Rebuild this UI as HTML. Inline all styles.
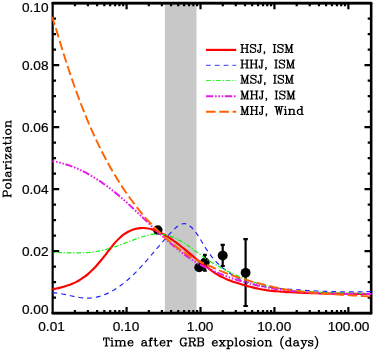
<!DOCTYPE html>
<html><head><meta charset="utf-8"><title>Polarization</title>
<style>
html,body{margin:0;padding:0;background:#fff;}
body{width:374px;height:352px;overflow:hidden;font-family:"Liberation Sans",sans-serif;}
svg{display:block;will-change:transform;}
</style></head><body>
<svg width="374" height="352" viewBox="0 0 374 352">
<rect x="0" y="0" width="374" height="352" fill="#ffffff"/>
<rect x="164.88" y="3.15" width="31.62" height="310.00" fill="#c8c8c8"/>
<path d="M74.91,313.15 v-3.10 M74.91,3.15 v3.10 M87.92,313.15 v-3.10 M87.92,3.15 v3.10 M97.16,313.15 v-3.10 M97.16,3.15 v3.10 M104.32,313.15 v-3.10 M104.32,3.15 v3.10 M110.18,313.15 v-3.10 M110.18,3.15 v3.10 M115.13,313.15 v-3.10 M115.13,3.15 v3.10 M119.42,313.15 v-3.10 M119.42,3.15 v3.10 M123.20,313.15 v-3.10 M123.20,3.15 v3.10 M126.58,313.15 v-6.20 M126.58,3.15 v6.20 M148.84,313.15 v-3.10 M148.84,3.15 v3.10 M161.85,313.15 v-3.10 M161.85,3.15 v3.10 M171.09,313.15 v-3.10 M171.09,3.15 v3.10 M178.25,313.15 v-3.10 M178.25,3.15 v3.10 M184.11,313.15 v-3.10 M184.11,3.15 v3.10 M189.06,313.15 v-3.10 M189.06,3.15 v3.10 M193.35,313.15 v-3.10 M193.35,3.15 v3.10 M197.13,313.15 v-3.10 M197.13,3.15 v3.10 M200.51,313.15 v-6.20 M200.51,3.15 v6.20 M222.77,313.15 v-3.10 M222.77,3.15 v3.10 M235.78,313.15 v-3.10 M235.78,3.15 v3.10 M245.02,313.15 v-3.10 M245.02,3.15 v3.10 M252.18,313.15 v-3.10 M252.18,3.15 v3.10 M258.04,313.15 v-3.10 M258.04,3.15 v3.10 M262.99,313.15 v-3.10 M262.99,3.15 v3.10 M267.28,313.15 v-3.10 M267.28,3.15 v3.10 M271.06,313.15 v-3.10 M271.06,3.15 v3.10 M274.44,313.15 v-6.20 M274.44,3.15 v6.20 M296.70,313.15 v-3.10 M296.70,3.15 v3.10 M309.71,313.15 v-3.10 M309.71,3.15 v3.10 M318.95,313.15 v-3.10 M318.95,3.15 v3.10 M326.11,313.15 v-3.10 M326.11,3.15 v3.10 M331.97,313.15 v-3.10 M331.97,3.15 v3.10 M336.92,313.15 v-3.10 M336.92,3.15 v3.10 M341.21,313.15 v-3.10 M341.21,3.15 v3.10 M344.99,313.15 v-3.10 M344.99,3.15 v3.10 M348.37,313.15 v-6.20 M348.37,3.15 v6.20 M52.65,297.65 h3.40 M371.10,297.65 h-3.40 M52.65,282.15 h3.40 M371.10,282.15 h-3.40 M52.65,266.65 h3.40 M371.10,266.65 h-3.40 M52.65,251.15 h6.60 M371.10,251.15 h-6.60 M52.65,235.65 h3.40 M371.10,235.65 h-3.40 M52.65,220.15 h3.40 M371.10,220.15 h-3.40 M52.65,204.65 h3.40 M371.10,204.65 h-3.40 M52.65,189.15 h6.60 M371.10,189.15 h-6.60 M52.65,173.65 h3.40 M371.10,173.65 h-3.40 M52.65,158.15 h3.40 M371.10,158.15 h-3.40 M52.65,142.65 h3.40 M371.10,142.65 h-3.40 M52.65,127.15 h6.60 M371.10,127.15 h-6.60 M52.65,111.65 h3.40 M371.10,111.65 h-3.40 M52.65,96.15 h3.40 M371.10,96.15 h-3.40 M52.65,80.65 h3.40 M371.10,80.65 h-3.40 M52.65,65.15 h6.60 M371.10,65.15 h-6.60 M52.65,49.65 h3.40 M371.10,49.65 h-3.40 M52.65,34.15 h3.40 M371.10,34.15 h-3.40 M52.65,18.65 h3.40 M371.10,18.65 h-3.40" stroke="#000" stroke-width="2.2" fill="none"/>
<rect x="52.65" y="3.15" width="318.45" height="310.00" fill="none" stroke="#000" stroke-width="2.2" stroke-linejoin="round"/>
<path d="M52.65,3.15 H371.10 M52.65,313.15 H371.10" fill="none" stroke="#000" stroke-width="2.6" stroke-linecap="round"/>
<path d="M371.10,3.15 V313.15" fill="none" stroke="#000" stroke-width="2.45" stroke-linecap="round"/>
<g stroke="#000" stroke-width="2.2" fill="#000">
<circle cx="157.80" cy="230.10" r="4.75" stroke="none"/>
<circle cx="199.20" cy="267.40" r="4.90" stroke="none"/>
<path d="M204.90,254.90 V270.60 M203.05,254.90 H206.75 M203.05,270.60 H206.75" fill="none"/>
<circle cx="204.90" cy="262.30" r="4.80" stroke="none"/>
<path d="M222.70,244.90 V266.00 M220.60,244.90 H224.80 M220.60,266.00 H224.80" fill="none"/>
<circle cx="222.70" cy="255.60" r="4.95" stroke="none"/>
<path d="M245.60,239.20 V306.00 M243.35,239.20 H247.85 M243.35,306.00 H247.85" fill="none"/>
<circle cx="245.60" cy="272.80" r="4.90" stroke="none"/>
</g>
<g fill="none" stroke-linejoin="round">
<path d="M52.40,289.41 C53.06,289.27 55.06,288.86 56.39,288.57 C57.71,288.28 59.04,287.98 60.37,287.65 C61.70,287.31 63.03,286.97 64.36,286.58 C65.69,286.18 67.02,285.77 68.34,285.30 C69.67,284.83 71.00,284.33 72.33,283.76 C73.66,283.20 74.99,282.59 76.32,281.90 C77.65,281.22 78.98,280.49 80.30,279.67 C81.63,278.85 82.96,277.97 84.29,276.99 C85.62,276.02 86.95,274.97 88.28,273.82 C89.61,272.67 90.93,271.43 92.26,270.11 C93.59,268.79 94.92,267.38 96.25,265.91 C97.58,264.45 98.91,262.90 100.24,261.31 C101.56,259.72 102.89,258.06 104.22,256.37 C105.55,254.69 106.88,252.92 108.21,251.20 C109.54,249.48 110.87,247.69 112.19,246.06 C113.52,244.42 114.85,242.81 116.18,241.37 C117.51,239.93 118.84,238.62 120.17,237.43 C121.50,236.25 122.82,235.19 124.15,234.24 C125.48,233.29 126.81,232.47 128.14,231.75 C129.47,231.03 130.80,230.43 132.12,229.92 C133.45,229.42 134.78,229.03 136.11,228.72 C137.44,228.42 138.77,228.22 140.10,228.10 C141.43,227.99 142.75,227.97 144.08,228.03 C145.41,228.09 146.74,228.25 148.07,228.47 C149.40,228.69 150.73,229.00 152.06,229.37 C153.38,229.74 154.71,230.19 156.04,230.70 C157.37,231.21 158.70,231.79 160.03,232.42 C161.36,233.05 162.69,233.75 164.02,234.49 C165.34,235.23 166.67,236.03 168.00,236.87 C169.33,237.71 170.66,238.60 171.99,239.52 C173.32,240.44 174.65,241.41 175.97,242.41 C177.30,243.40 178.63,244.43 179.96,245.48 C181.29,246.53 182.62,247.61 183.95,248.70 C185.28,249.78 186.60,250.89 187.93,251.99 C189.26,253.10 190.59,254.20 191.92,255.32 C193.25,256.44 194.58,257.65 195.91,258.73 C197.23,259.81 198.56,260.76 199.89,261.78 C201.22,262.79 202.55,263.83 203.88,264.82 C205.21,265.82 206.54,266.76 207.86,267.77 C209.19,268.77 210.52,269.88 211.85,270.85 C213.18,271.83 214.51,272.75 215.84,273.60 C217.17,274.45 218.49,275.22 219.82,275.93 C221.15,276.65 222.48,277.27 223.81,277.89 C225.14,278.52 226.47,279.11 227.80,279.67 C229.12,280.22 230.45,280.75 231.78,281.23 C233.11,281.71 234.44,282.15 235.77,282.57 C237.10,283.00 238.43,283.35 239.75,283.75 C241.08,284.16 242.41,284.59 243.74,284.99 C245.07,285.38 246.40,285.76 247.73,286.13 C249.06,286.49 250.38,286.85 251.71,287.17 C253.04,287.50 254.37,287.80 255.70,288.09 C257.03,288.38 258.36,288.66 259.69,288.93 C261.01,289.19 262.34,289.45 263.67,289.69 C265.00,289.93 266.33,290.20 267.66,290.39 C268.99,290.58 270.31,290.69 271.64,290.82 C272.97,290.96 274.30,291.07 275.63,291.19 C276.96,291.30 278.29,291.41 279.62,291.51 C280.95,291.62 282.27,291.71 283.60,291.80 C284.93,291.89 286.26,291.98 287.59,292.06 C288.92,292.15 290.25,292.23 291.58,292.30 C292.90,292.37 294.23,292.44 295.56,292.51 C296.89,292.58 298.22,292.64 299.55,292.70 C300.88,292.76 302.20,292.81 303.53,292.86 C304.86,292.92 306.19,292.97 307.52,293.01 C308.85,293.06 310.18,293.10 311.51,293.14 C312.84,293.18 314.16,293.22 315.49,293.25 C316.82,293.29 318.15,293.32 319.48,293.35 C320.81,293.38 322.14,293.41 323.47,293.43 C324.79,293.46 326.12,293.48 327.45,293.51 C328.78,293.53 330.11,293.55 331.44,293.57 C332.77,293.59 334.10,293.61 335.42,293.62 C336.75,293.64 338.08,293.66 339.41,293.67 C340.74,293.69 342.07,293.70 343.40,293.71 C344.73,293.73 346.05,293.74 347.38,293.75 C348.71,293.77 350.04,293.78 351.37,293.79 C352.70,293.80 354.03,293.81 355.36,293.83 C356.68,293.84 358.01,293.85 359.34,293.87 C360.67,293.88 362.00,293.89 363.33,293.91 C364.66,293.92 365.99,293.94 367.31,293.95 C368.64,293.97 370.64,293.99 371.30,294.00" stroke="#ff0000" stroke-width="2.15"/>
<path d="M52.40,292.68 C52.90,292.71 54.41,292.79 55.41,292.89 C56.41,292.98 57.41,293.12 58.42,293.26 C59.42,293.41 60.42,293.58 61.43,293.77 C62.43,293.95 63.43,294.16 64.43,294.36 C65.44,294.57 66.44,294.80 67.44,295.02 C68.45,295.24 69.45,295.47 70.45,295.69 C71.45,295.91 72.46,296.14 73.46,296.35 C74.46,296.56 75.47,296.77 76.47,296.95 C77.47,297.14 78.47,297.32 79.48,297.47 C80.48,297.62 81.48,297.76 82.48,297.86 C83.49,297.97 84.49,298.05 85.49,298.10 C86.50,298.14 87.50,298.16 88.50,298.13 C89.50,298.11 90.51,298.05 91.51,297.95 C92.51,297.85 93.52,297.72 94.52,297.55 C95.52,297.38 96.52,297.17 97.53,296.93 C98.53,296.69 99.53,296.42 100.54,296.11 C101.54,295.80 102.54,295.46 103.54,295.08 C104.55,294.70 105.55,294.29 106.55,293.85 C107.56,293.40 108.56,292.93 109.56,292.42 C110.56,291.91 111.57,291.37 112.57,290.80 C113.57,290.23 114.58,289.62 115.58,288.99 C116.58,288.35 117.58,287.69 118.59,286.99 C119.59,286.30 120.59,285.57 121.60,284.82 C122.60,284.06 123.60,283.28 124.60,282.47 C125.61,281.65 126.61,280.81 127.61,279.94 C128.62,279.07 129.62,278.18 130.62,277.25 C131.62,276.33 132.63,275.37 133.63,274.39 C134.63,273.42 135.63,272.41 136.64,271.38 C137.64,270.35 138.64,269.29 139.65,268.22 C140.65,267.14 141.65,266.04 142.65,264.93 C143.66,263.82 144.66,262.69 145.66,261.55 C146.67,260.41 147.67,259.25 148.67,258.09 C149.67,256.93 150.68,255.75 151.68,254.58 C152.68,253.41 153.69,252.22 154.69,251.05 C155.69,249.87 156.69,248.69 157.70,247.51 C158.70,246.34 159.70,245.16 160.71,244.00 C161.71,242.84 162.71,241.68 163.71,240.54 C164.72,239.40 165.72,238.26 166.72,237.15 C167.73,236.03 168.73,234.93 169.73,233.85 C170.73,232.78 171.74,231.70 172.74,230.69 C173.74,229.68 174.75,228.66 175.75,227.79 C176.75,226.92 177.75,226.09 178.76,225.45 C179.76,224.81 180.76,224.27 181.77,223.96 C182.77,223.66 183.77,223.51 184.77,223.62 C185.78,223.73 186.78,224.07 187.78,224.60 C188.78,225.12 189.79,225.87 190.79,226.76 C191.79,227.65 192.80,228.74 193.80,229.93 C194.80,231.12 195.80,232.47 196.81,233.90 C197.81,235.33 198.81,236.91 199.82,238.50 C200.82,240.09 201.82,241.81 202.82,243.45 C203.83,245.10 204.83,246.80 205.83,248.37 C206.84,249.94 207.84,251.46 208.84,252.88 C209.84,254.31 210.85,255.67 211.85,256.92 C212.85,258.18 213.86,259.30 214.86,260.40 C215.86,261.49 216.86,262.51 217.87,263.49 C218.87,264.47 219.87,265.38 220.88,266.26 C221.88,267.13 222.88,267.94 223.88,268.75 C224.89,269.57 225.89,270.39 226.89,271.15 C227.90,271.91 228.90,272.63 229.90,273.32 C230.90,274.01 231.91,274.67 232.91,275.29 C233.91,275.91 234.92,276.49 235.92,277.04 C236.92,277.60 237.92,278.12 238.93,278.61 C239.93,279.11 240.93,279.57 241.93,280.01 C242.94,280.44 243.94,280.83 244.94,281.24 C245.95,281.64 246.95,282.05 247.95,282.42 C248.95,282.79 249.96,283.14 250.96,283.47 C251.96,283.80 252.97,284.10 253.97,284.39 C254.97,284.68 255.97,284.95 256.98,285.20 C257.98,285.45 258.98,285.69 259.99,285.91 C260.99,286.13 261.99,286.33 262.99,286.50 C264.00,286.67 265.00,286.80 266.00,286.94 C267.01,287.08 268.01,287.20 269.01,287.32 C270.01,287.44 271.02,287.55 272.02,287.66 C273.02,287.76 274.03,287.86 275.03,287.96 C276.03,288.05 277.03,288.14 278.04,288.23 C279.04,288.32 280.04,288.41 281.05,288.50 C282.05,288.58 283.05,288.67 284.05,288.75 C285.06,288.84 286.06,288.92 287.06,289.00 C288.07,289.09 289.07,289.17 290.07,289.25 C291.07,289.33 292.08,289.40 293.08,289.48 C294.08,289.56 295.08,289.63 296.09,289.71 C297.09,289.78 298.09,289.85 299.10,289.92 C300.10,289.99 301.10,290.06 302.10,290.13 C303.11,290.20 304.11,290.26 305.11,290.33 C306.12,290.39 307.12,290.45 308.12,290.51 C309.12,290.57 310.13,290.63 311.13,290.69 C312.13,290.75 313.14,290.80 314.14,290.86 C315.14,290.91 316.14,290.96 317.15,291.01 C318.15,291.06 319.15,291.11 320.16,291.15 C321.16,291.20 322.16,291.24 323.16,291.29 C324.17,291.33 325.17,291.37 326.17,291.41 C327.18,291.44 328.18,291.48 329.18,291.51 C330.18,291.55 331.19,291.58 332.19,291.61 C333.19,291.64 334.20,291.66 335.20,291.69 C336.20,291.71 337.20,291.74 338.21,291.76 C339.21,291.78 340.21,291.80 341.22,291.81 C342.22,291.83 343.22,291.84 344.22,291.85 C345.23,291.86 346.23,291.87 347.23,291.88 C348.23,291.88 349.24,291.89 350.24,291.89 C351.24,291.89 352.25,291.89 353.25,291.88 C354.25,291.88 355.25,291.87 356.26,291.86 C357.26,291.85 358.26,291.84 359.27,291.82 C360.27,291.81 361.27,291.79 362.27,291.77 C363.28,291.75 364.28,291.73 365.28,291.70 C366.29,291.68 367.29,291.65 368.29,291.62 C369.29,291.59 370.80,291.53 371.30,291.51" stroke="#2020ff" stroke-width="1.15" stroke-dasharray="4.8 4"/>
<path d="M52.40,252.46 C53.06,252.47 55.06,252.50 56.39,252.53 C57.71,252.56 59.04,252.60 60.37,252.64 C61.70,252.68 63.03,252.72 64.36,252.75 C65.69,252.79 67.02,252.83 68.34,252.85 C69.67,252.88 71.00,252.91 72.33,252.92 C73.66,252.94 74.99,252.95 76.32,252.94 C77.65,252.93 78.98,252.92 80.30,252.88 C81.63,252.85 82.96,252.80 84.29,252.74 C85.62,252.67 86.95,252.59 88.28,252.48 C89.61,252.37 90.93,252.24 92.26,252.09 C93.59,251.93 94.92,251.75 96.25,251.54 C97.58,251.33 98.91,251.10 100.24,250.83 C101.56,250.56 102.89,250.26 104.22,249.93 C105.55,249.61 106.88,249.25 108.21,248.87 C109.54,248.49 110.87,248.09 112.19,247.67 C113.52,247.25 114.85,246.80 116.18,246.35 C117.51,245.90 118.84,245.42 120.17,244.94 C121.50,244.46 122.82,243.96 124.15,243.46 C125.48,242.96 126.81,242.45 128.14,241.94 C129.47,241.43 130.80,240.91 132.12,240.40 C133.45,239.89 134.78,239.37 136.11,238.89 C137.44,238.40 138.77,237.91 140.10,237.46 C141.43,237.02 142.75,236.59 144.08,236.20 C145.41,235.82 146.74,235.46 148.07,235.17 C149.40,234.87 150.73,234.61 152.06,234.43 C153.38,234.24 154.71,234.10 156.04,234.04 C157.37,233.99 158.70,234.00 160.03,234.09 C161.36,234.18 162.69,234.35 164.02,234.59 C165.34,234.83 166.67,235.15 168.00,235.53 C169.33,235.91 170.66,236.36 171.99,236.87 C173.32,237.37 174.65,237.95 175.97,238.57 C177.30,239.20 178.63,239.89 179.96,240.62 C181.29,241.36 182.62,242.15 183.95,242.98 C185.28,243.81 186.60,244.69 187.93,245.59 C189.26,246.50 190.59,247.45 191.92,248.40 C193.25,249.36 194.58,250.35 195.91,251.33 C197.23,252.31 198.56,253.32 199.89,254.30 C201.22,255.29 202.55,256.31 203.88,257.25 C205.21,258.19 206.54,259.08 207.86,259.94 C209.19,260.81 210.52,261.62 211.85,262.42 C213.18,263.22 214.51,263.98 215.84,264.74 C217.17,265.50 218.49,266.25 219.82,267.00 C221.15,267.75 222.48,268.51 223.81,269.23 C225.14,269.95 226.47,270.64 227.80,271.31 C229.12,271.99 230.45,272.64 231.78,273.26 C233.11,273.89 234.44,274.50 235.77,275.08 C237.10,275.67 238.43,276.23 239.75,276.78 C241.08,277.32 242.41,277.83 243.74,278.35 C245.07,278.87 246.40,279.41 247.73,279.92 C249.06,280.43 250.38,280.95 251.71,281.43 C253.04,281.92 254.37,282.39 255.70,282.84 C257.03,283.29 258.36,283.73 259.69,284.14 C261.01,284.55 262.34,284.93 263.67,285.28 C265.00,285.63 266.33,285.93 267.66,286.23 C268.99,286.53 270.31,286.82 271.64,287.09 C272.97,287.37 274.30,287.63 275.63,287.87 C276.96,288.12 278.29,288.35 279.62,288.57 C280.95,288.80 282.27,289.01 283.60,289.20 C284.93,289.40 286.26,289.59 287.59,289.76 C288.92,289.94 290.25,290.10 291.58,290.26 C292.90,290.42 294.23,290.56 295.56,290.70 C296.89,290.83 298.22,290.96 299.55,291.08 C300.88,291.20 302.20,291.31 303.53,291.41 C304.86,291.51 306.19,291.61 307.52,291.70 C308.85,291.79 310.18,291.87 311.51,291.94 C312.84,292.02 314.16,292.09 315.49,292.15 C316.82,292.22 318.15,292.28 319.48,292.33 C320.81,292.39 322.14,292.43 323.47,292.48 C324.79,292.53 326.12,292.57 327.45,292.61 C328.78,292.65 330.11,292.69 331.44,292.72 C332.77,292.76 334.10,292.79 335.42,292.82 C336.75,292.86 338.08,292.89 339.41,292.92 C340.74,292.95 342.07,292.97 343.40,293.00 C344.73,293.03 346.05,293.06 347.38,293.09 C348.71,293.12 350.04,293.16 351.37,293.19 C352.70,293.22 354.03,293.26 355.36,293.30 C356.68,293.33 358.01,293.37 359.34,293.42 C360.67,293.46 362.00,293.51 363.33,293.56 C364.66,293.61 365.99,293.67 367.31,293.73 C368.64,293.79 370.64,293.89 371.30,293.92" stroke="#10f210" stroke-width="1.15" stroke-dasharray="4.7 1.8 1.3 1.8" stroke-dashoffset="4.8"/>
<path d="M52.40,161.22 C53.06,161.34 55.06,161.65 56.39,161.91 C57.71,162.18 59.04,162.47 60.37,162.80 C61.70,163.13 63.03,163.48 64.36,163.87 C65.69,164.26 67.02,164.68 68.34,165.13 C69.67,165.58 71.00,166.06 72.33,166.57 C73.66,167.08 74.99,167.62 76.32,168.19 C77.65,168.75 78.98,169.35 80.30,169.98 C81.63,170.60 82.96,171.26 84.29,171.94 C85.62,172.62 86.95,173.33 88.28,174.07 C89.61,174.81 90.93,175.57 92.26,176.36 C93.59,177.16 94.92,177.97 96.25,178.82 C97.58,179.66 98.91,180.53 100.24,181.43 C101.56,182.33 102.89,183.25 104.22,184.20 C105.55,185.14 106.88,186.12 108.21,187.11 C109.54,188.11 110.87,189.13 112.19,190.17 C113.52,191.22 114.85,192.29 116.18,193.38 C117.51,194.47 118.84,195.59 120.17,196.73 C121.50,197.86 122.82,199.03 124.15,200.21 C125.48,201.39 126.81,202.59 128.14,203.81 C129.47,205.02 130.80,206.26 132.12,207.50 C133.45,208.74 134.78,210.00 136.11,211.26 C137.44,212.52 138.77,213.80 140.10,215.07 C141.43,216.35 142.75,217.63 144.08,218.91 C145.41,220.18 146.74,221.46 148.07,222.74 C149.40,224.01 150.73,225.28 152.06,226.54 C153.38,227.80 154.71,229.05 156.04,230.29 C157.37,231.53 158.70,232.76 160.03,233.97 C161.36,235.19 162.69,236.39 164.02,237.58 C165.34,238.76 166.67,239.94 168.00,241.09 C169.33,242.25 170.66,243.39 171.99,244.51 C173.32,245.63 174.65,246.73 175.97,247.81 C177.30,248.89 178.63,249.96 179.96,251.00 C181.29,252.03 182.62,253.05 183.95,254.05 C185.28,255.04 186.60,256.01 187.93,256.96 C189.26,257.91 190.59,258.83 191.92,259.73 C193.25,260.63 194.58,261.53 195.91,262.35 C197.23,263.17 198.56,263.93 199.89,264.63 C201.22,265.33 202.55,265.94 203.88,266.55 C205.21,267.17 206.54,267.72 207.86,268.32 C209.19,268.91 210.52,269.51 211.85,270.12 C213.18,270.74 214.51,271.40 215.84,272.00 C217.17,272.60 218.49,273.16 219.82,273.71 C221.15,274.27 222.48,274.80 223.81,275.32 C225.14,275.83 226.47,276.34 227.80,276.82 C229.12,277.31 230.45,277.77 231.78,278.22 C233.11,278.67 234.44,279.10 235.77,279.52 C237.10,279.94 238.43,280.35 239.75,280.74 C241.08,281.14 242.41,281.52 243.74,281.89 C245.07,282.26 246.40,282.62 247.73,282.97 C249.06,283.32 250.38,283.66 251.71,284.00 C253.04,284.33 254.37,284.66 255.70,284.97 C257.03,285.29 258.36,285.59 259.69,285.89 C261.01,286.19 262.34,286.47 263.67,286.75 C265.00,287.03 266.33,287.31 267.66,287.57 C268.99,287.82 270.31,288.07 271.64,288.29 C272.97,288.52 274.30,288.72 275.63,288.92 C276.96,289.12 278.29,289.31 279.62,289.50 C280.95,289.69 282.27,289.87 283.60,290.04 C284.93,290.21 286.26,290.37 287.59,290.53 C288.92,290.69 290.25,290.84 291.58,290.98 C292.90,291.13 294.23,291.26 295.56,291.39 C296.89,291.53 298.22,291.65 299.55,291.77 C300.88,291.89 302.20,292.00 303.53,292.11 C304.86,292.21 306.19,292.31 307.52,292.41 C308.85,292.51 310.18,292.60 311.51,292.68 C312.84,292.77 314.16,292.85 315.49,292.92 C316.82,293.00 318.15,293.07 319.48,293.13 C320.81,293.20 322.14,293.26 323.47,293.32 C324.79,293.37 326.12,293.43 327.45,293.47 C328.78,293.52 330.11,293.57 331.44,293.61 C332.77,293.65 334.10,293.69 335.42,293.72 C336.75,293.75 338.08,293.78 339.41,293.81 C340.74,293.84 342.07,293.86 343.40,293.88 C344.73,293.90 346.05,293.92 347.38,293.93 C348.71,293.95 350.04,293.96 351.37,293.97 C352.70,293.98 354.03,293.99 355.36,294.00 C356.68,294.00 358.01,294.01 359.34,294.01 C360.67,294.01 362.00,294.01 363.33,294.01 C364.66,294.01 365.99,294.01 367.31,294.00 C368.64,294.00 370.64,293.99 371.30,293.99" stroke="#e61ae6" stroke-width="1.95" stroke-dasharray="7.3 1.8 1.6 1.7 1.6 1.7 1.6 1.5" stroke-dashoffset="5.4"/>
<path d="M52.20,16.97 C52.70,18.54 54.21,23.19 55.21,26.40 C56.21,29.60 57.22,32.92 58.22,36.20 C59.22,39.48 60.23,42.82 61.23,46.08 C62.23,49.34 63.24,52.58 64.24,55.75 C65.24,58.93 66.25,62.06 67.25,65.13 C68.26,68.21 69.26,71.24 70.26,74.22 C71.27,77.19 72.27,80.12 73.27,83.00 C74.28,85.87 75.28,88.70 76.28,91.47 C77.29,94.25 78.29,96.97 79.29,99.64 C80.30,102.31 81.30,104.93 82.30,107.50 C83.31,110.07 84.31,112.58 85.31,115.05 C86.32,117.52 87.32,119.93 88.32,122.31 C89.33,124.68 90.33,127.00 91.33,129.27 C92.34,131.55 93.34,133.78 94.35,135.97 C95.35,138.16 96.35,140.30 97.36,142.40 C98.36,144.50 99.36,146.56 100.37,148.58 C101.37,150.59 102.37,152.57 103.38,154.51 C104.38,156.45 105.38,158.35 106.39,160.21 C107.39,162.08 108.39,163.90 109.40,165.70 C110.40,167.49 111.40,169.24 112.41,170.97 C113.41,172.69 114.41,174.38 115.42,176.04 C116.42,177.70 117.42,179.33 118.43,180.93 C119.43,182.53 120.44,184.09 121.44,185.63 C122.44,187.18 123.45,188.69 124.45,190.18 C125.45,191.66 126.46,193.12 127.46,194.56 C128.46,195.99 129.47,197.40 130.47,198.79 C131.47,200.17 132.48,201.53 133.48,202.87 C134.48,204.20 135.49,205.51 136.49,206.80 C137.49,208.08 138.50,209.35 139.50,210.59 C140.50,211.83 141.51,213.04 142.51,214.24 C143.51,215.43 144.52,216.60 145.52,217.75 C146.53,218.90 147.53,220.02 148.53,221.13 C149.54,222.24 150.54,223.32 151.54,224.38 C152.55,225.45 153.55,226.49 154.55,227.51 C155.56,228.53 156.56,229.54 157.56,230.52 C158.57,231.50 159.57,232.46 160.57,233.41 C161.58,234.35 162.58,235.28 163.58,236.18 C164.59,237.09 165.59,237.98 166.59,238.85 C167.60,239.72 168.60,240.57 169.60,241.41 C170.61,242.24 171.61,243.06 172.62,243.86 C173.62,244.66 174.62,245.45 175.63,246.22 C176.63,246.99 177.63,247.74 178.64,248.48 C179.64,249.22 180.64,249.94 181.65,250.65 C182.65,251.35 183.65,252.05 184.66,252.73 C185.66,253.41 186.66,254.07 187.67,254.72 C188.67,255.37 189.67,256.01 190.68,256.64 C191.68,257.26 192.68,257.88 193.69,258.47 C194.69,259.06 195.69,259.65 196.70,260.17 C197.70,260.69 198.71,261.13 199.71,261.59 C200.71,262.05 201.72,262.50 202.72,262.94 C203.72,263.38 204.73,263.80 205.73,264.23 C206.73,264.66 207.74,265.07 208.74,265.53 C209.74,265.98 210.75,266.50 211.75,266.98 C212.75,267.45 213.76,267.92 214.76,268.37 C215.76,268.83 216.77,269.27 217.77,269.71 C218.77,270.15 219.78,270.58 220.78,271.00 C221.78,271.42 222.79,271.84 223.79,272.24 C224.79,272.65 225.80,273.04 226.80,273.43 C227.81,273.82 228.81,274.20 229.81,274.57 C230.82,274.95 231.82,275.31 232.82,275.67 C233.83,276.02 234.83,276.37 235.83,276.71 C236.84,277.06 237.84,277.39 238.84,277.72 C239.85,278.04 240.85,278.36 241.85,278.68 C242.86,278.99 243.86,279.29 244.86,279.59 C245.87,279.89 246.87,280.18 247.87,280.47 C248.88,280.75 249.88,281.03 250.88,281.30 C251.89,281.58 252.89,281.84 253.90,282.10 C254.90,282.36 255.90,282.61 256.91,282.86 C257.91,283.11 258.91,283.34 259.92,283.58 C260.92,283.82 261.92,284.06 262.93,284.31 C263.93,284.57 264.93,284.85 265.94,285.11 C266.94,285.37 267.94,285.62 268.95,285.87 C269.95,286.12 270.95,286.37 271.96,286.61 C272.96,286.84 273.96,287.08 274.97,287.31 C275.97,287.54 276.97,287.76 277.98,287.98 C278.98,288.20 279.99,288.41 280.99,288.62 C281.99,288.83 283.00,289.05 284.00,289.24 C285.00,289.42 286.01,289.58 287.01,289.73 C288.01,289.89 289.02,290.02 290.02,290.16 C291.02,290.29 292.03,290.43 293.03,290.55 C294.03,290.68 295.04,290.81 296.04,290.93 C297.04,291.05 298.05,291.17 299.05,291.29 C300.05,291.40 301.06,291.51 302.06,291.62 C303.06,291.73 304.07,291.84 305.07,291.94 C306.08,292.04 307.08,292.14 308.08,292.24 C309.09,292.33 310.09,292.43 311.09,292.52 C312.10,292.61 313.10,292.70 314.10,292.79 C315.11,292.88 316.11,292.96 317.11,293.04 C318.12,293.12 319.12,293.20 320.12,293.28 C321.13,293.36 322.13,293.44 323.13,293.51 C324.14,293.59 325.14,293.66 326.14,293.73 C327.15,293.80 328.15,293.87 329.15,293.94 C330.16,294.01 331.16,294.08 332.17,294.14 C333.17,294.21 334.17,294.27 335.18,294.34 C336.18,294.40 337.18,294.46 338.19,294.53 C339.19,294.59 340.19,294.65 341.20,294.71 C342.20,294.77 343.20,294.83 344.21,294.89 C345.21,294.95 346.21,295.01 347.22,295.07 C348.22,295.13 349.22,295.19 350.23,295.25 C351.23,295.31 352.23,295.37 353.24,295.43 C354.24,295.49 355.24,295.55 356.25,295.61 C357.25,295.67 358.26,295.73 359.26,295.79 C360.26,295.85 361.27,295.92 362.27,295.98 C363.27,296.04 364.28,296.11 365.28,296.17 C366.28,296.23 367.29,296.30 368.29,296.37 C369.29,296.44 370.80,296.54 371.30,296.57" stroke="#ff6000" stroke-width="1.9" stroke-dasharray="9.52 3.64" stroke-dashoffset="1.3"/>
</g>
<g font-family="'Liberation Sans', sans-serif" font-size="13" fill="#000" stroke="#000" stroke-width="0.22">
<text x="38.27" y="331.30" textLength="26.56" lengthAdjust="spacingAndGlyphs">0.01</text>
<text x="112.70" y="331.30" textLength="26.56" lengthAdjust="spacingAndGlyphs">0.10</text>
<text x="186.83" y="331.30" textLength="26.56" lengthAdjust="spacingAndGlyphs">1.00</text>
<text x="257.16" y="331.30" textLength="34.15" lengthAdjust="spacingAndGlyphs">10.00</text>
<text x="327.70" y="331.30" textLength="41.74" lengthAdjust="spacingAndGlyphs">100.00</text>
<text x="21.94" y="313.50" textLength="26.56" lengthAdjust="spacingAndGlyphs">0.00</text>
<text x="21.94" y="256.45" textLength="26.56" lengthAdjust="spacingAndGlyphs">0.02</text>
<text x="21.94" y="194.45" textLength="26.56" lengthAdjust="spacingAndGlyphs">0.04</text>
<text x="21.94" y="132.45" textLength="26.56" lengthAdjust="spacingAndGlyphs">0.06</text>
<text x="21.94" y="70.45" textLength="26.56" lengthAdjust="spacingAndGlyphs">0.08</text>
<text x="21.94" y="11.75" textLength="26.56" lengthAdjust="spacingAndGlyphs">0.10</text>
</g>
<path d="M106.18,337.92 106.18,345.95 M106.56,337.92 106.56,345.95 M103.88,337.92 103.50,340.22 103.50,337.92 109.23,337.92 109.23,340.22 108.85,337.92 M105.03,345.95 107.70,345.95 M111.91,337.92 111.53,338.31 111.91,338.69 112.29,338.31 111.91,337.92 M111.91,340.60 111.91,345.95 M112.29,340.60 112.29,345.95 M110.76,340.60 112.29,340.60 M110.76,345.95 113.44,345.95 M116.11,340.60 116.11,345.95 M116.49,340.60 116.49,345.95 M116.49,341.75 117.26,340.98 118.40,340.60 119.17,340.60 120.31,340.98 120.70,341.75 120.70,345.95 M119.17,340.60 119.93,340.98 120.31,341.75 120.31,345.95 M120.70,341.75 121.46,340.98 122.61,340.60 123.37,340.60 124.52,340.98 124.90,341.75 124.90,345.95 M123.37,340.60 124.14,340.98 124.52,341.75 124.52,345.95 M114.96,340.60 116.49,340.60 M114.96,345.95 117.64,345.95 M119.17,345.95 121.84,345.95 M123.37,345.95 126.05,345.95 M128.34,342.89 132.93,342.89 132.93,342.13 132.54,341.36 132.16,340.98 131.40,340.60 130.25,340.60 129.10,340.98 128.34,341.75 127.96,342.89 127.96,343.66 128.34,344.80 129.10,345.57 130.25,345.95 131.01,345.95 132.16,345.57 132.93,344.80 M132.54,342.89 132.54,341.75 132.16,340.98 M130.25,340.60 129.49,340.98 128.72,341.75 128.34,342.89 128.34,343.66 128.72,344.80 129.49,345.57 130.25,345.95 M142.45,341.36 142.45,341.75 142.06,341.75 142.06,341.36 142.45,340.98 143.21,340.60 144.74,340.60 145.50,340.98 145.89,341.36 146.27,342.13 146.27,344.80 146.65,345.57 147.03,345.95 M145.89,341.36 145.89,344.80 146.27,345.57 147.03,345.95 147.41,345.95 M145.89,342.13 145.50,342.51 143.21,342.89 142.06,343.27 141.68,344.04 141.68,344.80 142.06,345.57 143.21,345.95 144.36,345.95 145.12,345.57 145.89,344.80 M143.21,342.89 142.45,343.27 142.06,344.04 142.06,344.80 142.45,345.57 143.21,345.95 M152.00,338.31 151.62,338.69 152.00,339.07 152.38,338.69 152.38,338.31 152.00,337.92 151.24,337.92 150.47,338.31 150.09,339.07 150.09,345.95 M151.24,337.92 150.85,338.31 150.47,339.07 150.47,345.95 M148.94,340.60 152.00,340.60 M148.94,345.95 151.62,345.95 M155.06,337.92 155.06,344.42 155.44,345.57 156.20,345.95 156.97,345.95 157.73,345.57 158.11,344.80 M155.44,337.92 155.44,344.42 155.82,345.57 156.20,345.95 M153.91,340.60 156.97,340.60 M160.41,342.89 164.99,342.89 164.99,342.13 164.61,341.36 164.23,340.98 163.46,340.60 162.32,340.60 161.17,340.98 160.41,341.75 160.03,342.89 160.03,343.66 160.41,344.80 161.17,345.57 162.32,345.95 163.08,345.95 164.23,345.57 164.99,344.80 M164.61,342.89 164.61,341.75 164.23,340.98 M162.32,340.60 161.55,340.98 160.79,341.75 160.41,342.89 160.41,343.66 160.79,344.80 161.55,345.57 162.32,345.95 M168.05,340.60 168.05,345.95 M168.43,340.60 168.43,345.95 M168.43,342.89 168.81,341.75 169.58,340.98 170.34,340.60 171.49,340.60 171.87,340.98 171.87,341.36 171.49,341.75 171.11,341.36 171.49,340.98 M166.90,340.60 168.43,340.60 M166.90,345.95 169.58,345.95 M185.60,339.07 185.98,340.22 185.98,337.92 185.60,339.07 184.83,338.31 183.69,337.92 182.92,337.92 181.78,338.31 181.01,339.07 180.63,339.84 180.25,340.98 180.25,342.89 180.63,344.04 181.01,344.80 181.78,345.57 182.92,345.95 183.69,345.95 184.83,345.57 185.60,344.80 M182.92,337.92 182.16,338.31 181.39,339.07 181.01,339.84 180.63,340.98 180.63,342.89 181.01,344.04 181.39,344.80 182.16,345.57 182.92,345.95 M185.60,342.89 185.60,345.95 M185.98,342.89 185.98,345.95 M184.45,342.89 187.13,342.89 M189.80,337.92 189.80,345.95 M190.18,337.92 190.18,345.95 M188.65,337.92 193.24,337.92 194.39,338.31 194.77,338.69 195.15,339.45 195.15,340.22 194.77,340.98 194.39,341.36 193.24,341.75 190.18,341.75 M193.24,337.92 194.00,338.31 194.39,338.69 194.77,339.45 194.77,340.22 194.39,340.98 194.00,341.36 193.24,341.75 M188.65,345.95 191.33,345.95 M192.09,341.75 192.86,342.13 193.24,342.51 194.39,345.19 194.77,345.57 195.15,345.57 195.53,345.19 M192.86,342.13 193.24,342.89 194.00,345.57 194.39,345.95 195.15,345.95 195.53,345.19 195.53,344.80 M198.21,337.92 198.21,345.95 M198.59,337.92 198.59,345.95 M197.06,337.92 201.65,337.92 202.79,338.31 203.18,338.69 203.56,339.45 203.56,340.22 203.18,340.98 202.79,341.36 201.65,341.75 M201.65,337.92 202.41,338.31 202.79,338.69 203.18,339.45 203.18,340.22 202.79,340.98 202.41,341.36 201.65,341.75 M198.59,341.75 201.65,341.75 202.79,342.13 203.18,342.51 203.56,343.27 203.56,344.42 203.18,345.19 202.79,345.57 201.65,345.95 197.06,345.95 M201.65,341.75 202.41,342.13 202.79,342.51 203.18,343.27 203.18,344.42 202.79,345.19 202.41,345.57 201.65,345.95 M212.70,342.89 217.28,342.89 217.28,342.13 216.90,341.36 216.52,340.98 215.75,340.60 214.61,340.60 213.46,340.98 212.70,341.75 212.31,342.89 212.31,343.66 212.70,344.80 213.46,345.57 214.61,345.95 215.37,345.95 216.52,345.57 217.28,344.80 M216.90,342.89 216.90,341.75 216.52,340.98 M214.61,340.60 213.84,340.98 213.08,341.75 212.70,342.89 212.70,343.66 213.08,344.80 213.84,345.57 214.61,345.95 M219.96,340.60 224.16,345.95 M220.34,340.60 224.54,345.95 M224.54,340.60 219.96,345.95 M219.19,340.60 221.49,340.60 M223.01,340.60 225.31,340.60 M219.19,345.95 221.49,345.95 M223.01,345.95 225.31,345.95 M227.98,340.60 227.98,348.63 M228.36,340.60 228.36,348.63 M228.36,341.75 229.13,340.98 229.89,340.60 230.66,340.60 231.80,340.98 232.57,341.75 232.95,342.89 232.95,343.66 232.57,344.80 231.80,345.57 230.66,345.95 229.89,345.95 229.13,345.57 228.36,344.80 M230.66,340.60 231.42,340.98 232.19,341.75 232.57,342.89 232.57,343.66 232.19,344.80 231.42,345.57 230.66,345.95 M226.84,340.60 228.36,340.60 M226.84,348.63 229.51,348.63 M236.01,337.92 236.01,345.95 M236.39,337.92 236.39,345.95 M234.86,337.92 236.39,337.92 M234.86,345.95 237.54,345.95 M241.74,340.60 240.59,340.98 239.83,341.75 239.45,342.89 239.45,343.66 239.83,344.80 240.59,345.57 241.74,345.95 242.50,345.95 243.65,345.57 244.41,344.80 244.80,343.66 244.80,342.89 244.41,341.75 243.65,340.98 242.50,340.60 241.74,340.60 M241.74,340.60 240.98,340.98 240.21,341.75 239.83,342.89 239.83,343.66 240.21,344.80 240.98,345.57 241.74,345.95 M242.50,345.95 243.27,345.57 244.03,344.80 244.41,343.66 244.41,342.89 244.03,341.75 243.27,340.98 242.50,340.60 M250.91,341.36 251.29,340.60 251.29,342.13 250.91,341.36 250.53,340.98 249.76,340.60 248.24,340.60 247.47,340.98 247.09,341.36 247.09,342.13 247.47,342.51 248.24,342.89 250.15,343.66 250.91,344.04 251.29,344.42 M247.09,341.75 247.47,342.13 248.24,342.51 250.15,343.27 250.91,343.66 251.29,344.04 251.29,345.19 250.91,345.57 250.15,345.95 248.62,345.95 247.85,345.57 247.47,345.19 247.09,344.42 247.09,345.95 247.47,345.19 M254.35,337.92 253.97,338.31 254.35,338.69 254.73,338.31 254.35,337.92 M254.35,340.60 254.35,345.95 M254.73,340.60 254.73,345.95 M253.20,340.60 254.73,340.60 M253.20,345.95 255.88,345.95 M260.08,340.60 258.94,340.98 258.17,341.75 257.79,342.89 257.79,343.66 258.17,344.80 258.94,345.57 260.08,345.95 260.85,345.95 261.99,345.57 262.76,344.80 263.14,343.66 263.14,342.89 262.76,341.75 261.99,340.98 260.85,340.60 260.08,340.60 M260.08,340.60 259.32,340.98 258.55,341.75 258.17,342.89 258.17,343.66 258.55,344.80 259.32,345.57 260.08,345.95 M260.85,345.95 261.61,345.57 262.38,344.80 262.76,343.66 262.76,342.89 262.38,341.75 261.61,340.98 260.85,340.60 M266.20,340.60 266.20,345.95 M266.58,340.60 266.58,345.95 M266.58,341.75 267.34,340.98 268.49,340.60 269.25,340.60 270.40,340.98 270.78,341.75 270.78,345.95 M269.25,340.60 270.02,340.98 270.40,341.75 270.40,345.95 M265.05,340.60 266.58,340.60 M265.05,345.95 267.73,345.95 M269.25,345.95 271.93,345.95 M283.36,336.40 282.60,337.16 281.83,338.31 281.07,339.84 280.69,341.75 280.69,343.27 281.07,345.19 281.83,346.71 282.60,347.86 283.36,348.63 M282.60,337.16 281.83,338.69 281.45,339.84 281.07,341.75 281.07,343.27 281.45,345.19 281.83,346.33 282.60,347.86 M290.24,337.92 290.24,345.95 M290.62,337.92 290.62,345.95 M290.24,341.75 289.48,340.98 288.71,340.60 287.95,340.60 286.80,340.98 286.04,341.75 285.65,342.89 285.65,343.66 286.04,344.80 286.80,345.57 287.95,345.95 288.71,345.95 289.48,345.57 290.24,344.80 M287.95,340.60 287.18,340.98 286.42,341.75 286.04,342.89 286.04,343.66 286.42,344.80 287.18,345.57 287.95,345.95 M289.09,337.92 290.62,337.92 M290.24,345.95 291.77,345.95 M294.44,341.36 294.44,341.75 294.06,341.75 294.06,341.36 294.44,340.98 295.21,340.60 296.74,340.60 297.50,340.98 297.88,341.36 298.26,342.13 298.26,344.80 298.65,345.57 299.03,345.95 M297.88,341.36 297.88,344.80 298.26,345.57 299.03,345.95 299.41,345.95 M297.88,342.13 297.50,342.51 295.21,342.89 294.06,343.27 293.68,344.04 293.68,344.80 294.06,345.57 295.21,345.95 296.35,345.95 297.12,345.57 297.88,344.80 M295.21,342.89 294.44,343.27 294.06,344.04 294.06,344.80 294.44,345.57 295.21,345.95 M301.70,340.60 304.00,345.95 M302.09,340.60 304.00,345.19 M306.29,340.60 304.00,345.95 303.23,347.48 302.47,348.24 301.70,348.63 301.32,348.63 300.94,348.24 301.32,347.86 301.70,348.24 M300.94,340.60 303.23,340.60 M304.76,340.60 307.05,340.60 M312.40,341.36 312.79,340.60 312.79,342.13 312.40,341.36 312.02,340.98 311.26,340.60 309.73,340.60 308.96,340.98 308.58,341.36 308.58,342.13 308.96,342.51 309.73,342.89 311.64,343.66 312.40,344.04 312.79,344.42 M308.58,341.75 308.96,342.13 309.73,342.51 311.64,343.27 312.40,343.66 312.79,344.04 312.79,345.19 312.40,345.57 311.64,345.95 310.11,345.95 309.35,345.57 308.96,345.19 308.58,344.42 308.58,345.95 308.96,345.19 M315.08,336.40 315.84,337.16 316.61,338.31 317.37,339.84 317.75,341.75 317.75,343.27 317.37,345.19 316.61,346.71 315.84,347.86 315.08,348.63 M315.84,337.16 316.61,338.69 316.99,339.84 317.37,341.75 317.37,343.27 316.99,345.19 316.61,346.33 315.84,347.86 M3.08,195.97 11.00,195.97 M3.08,195.59 11.00,195.59 M3.08,197.10 3.08,192.57 3.46,191.44 3.83,191.06 4.59,190.69 5.72,190.69 6.47,191.06 6.85,191.44 7.23,192.57 7.23,195.59 M3.08,192.57 3.46,191.82 3.83,191.44 4.59,191.06 5.72,191.06 6.47,191.44 6.85,191.82 7.23,192.57 M11.00,197.10 11.00,194.46 M5.72,186.16 6.10,187.29 6.85,188.05 7.98,188.42 8.74,188.42 9.87,188.05 10.62,187.29 11.00,186.16 11.00,185.41 10.62,184.28 9.87,183.52 8.74,183.14 7.98,183.14 6.85,183.52 6.10,184.28 5.72,185.41 5.72,186.16 M5.72,186.16 6.10,186.92 6.85,187.67 7.98,188.05 8.74,188.05 9.87,187.67 10.62,186.92 11.00,186.16 M11.00,185.41 10.62,184.65 9.87,183.90 8.74,183.52 7.98,183.52 6.85,183.90 6.10,184.65 5.72,185.41 M3.08,180.13 11.00,180.13 M3.08,179.75 11.00,179.75 M3.08,181.26 3.08,179.75 M11.00,181.26 11.00,178.62 M6.47,175.98 6.85,175.98 6.85,176.35 6.47,176.35 6.10,175.98 5.72,175.22 5.72,173.71 6.10,172.96 6.47,172.58 7.23,172.21 9.87,172.21 10.62,171.83 11.00,171.45 M6.47,172.58 9.87,172.58 10.62,172.21 11.00,171.45 11.00,171.07 M7.23,172.58 7.61,172.96 7.98,175.22 8.36,176.35 9.11,176.73 9.87,176.73 10.62,176.35 11.00,175.22 11.00,174.09 10.62,173.34 9.87,172.58 M7.98,175.22 8.36,175.98 9.11,176.35 9.87,176.35 10.62,175.98 11.00,175.22 M5.72,168.43 11.00,168.43 M5.72,168.06 11.00,168.06 M7.98,168.06 6.85,167.68 6.10,166.92 5.72,166.17 5.72,165.04 6.10,164.66 6.47,164.66 6.85,165.04 6.47,165.42 6.10,165.04 M5.72,169.57 5.72,168.06 M11.00,169.57 11.00,166.92 M3.08,162.02 3.46,162.40 3.83,162.02 3.46,161.64 3.08,162.02 M5.72,162.02 11.00,162.02 M5.72,161.64 11.00,161.64 M5.72,163.15 5.72,161.64 M11.00,163.15 11.00,160.51 M5.72,154.48 11.00,158.63 M5.72,154.10 11.00,158.25 M5.72,158.25 7.23,158.63 5.72,158.63 5.72,154.10 M11.00,158.63 11.00,154.10 9.49,154.10 11.00,154.48 M6.47,151.08 6.85,151.08 6.85,151.46 6.47,151.46 6.10,151.08 5.72,150.33 5.72,148.82 6.10,148.07 6.47,147.69 7.23,147.31 9.87,147.31 10.62,146.93 11.00,146.56 M6.47,147.69 9.87,147.69 10.62,147.31 11.00,146.56 11.00,146.18 M7.23,147.69 7.61,148.07 7.98,150.33 8.36,151.46 9.11,151.84 9.87,151.84 10.62,151.46 11.00,150.33 11.00,149.20 10.62,148.44 9.87,147.69 M7.98,150.33 8.36,151.08 9.11,151.46 9.87,151.46 10.62,151.08 11.00,150.33 M3.08,143.54 9.49,143.54 10.62,143.16 11.00,142.41 11.00,141.65 10.62,140.90 9.87,140.52 M3.08,143.16 9.49,143.16 10.62,142.78 11.00,142.41 M5.72,144.67 5.72,141.65 M3.08,137.88 3.46,138.26 3.83,137.88 3.46,137.50 3.08,137.88 M5.72,137.88 11.00,137.88 M5.72,137.50 11.00,137.50 M5.72,139.01 5.72,137.50 M11.00,139.01 11.00,136.37 M5.72,132.22 6.10,133.35 6.85,134.11 7.98,134.49 8.74,134.49 9.87,134.11 10.62,133.35 11.00,132.22 11.00,131.47 10.62,130.34 9.87,129.58 8.74,129.21 7.98,129.21 6.85,129.58 6.10,130.34 5.72,131.47 5.72,132.22 M5.72,132.22 6.10,132.98 6.85,133.73 7.98,134.11 8.74,134.11 9.87,133.73 10.62,132.98 11.00,132.22 M11.00,131.47 10.62,130.71 9.87,129.96 8.74,129.58 7.98,129.58 6.85,129.96 6.10,130.71 5.72,131.47 M5.72,126.19 11.00,126.19 M5.72,125.81 11.00,125.81 M6.85,125.81 6.10,125.06 5.72,123.93 5.72,123.17 6.10,122.04 6.85,121.66 11.00,121.66 M5.72,123.17 6.10,122.42 6.85,122.04 11.00,122.04 M5.72,127.32 5.72,125.81 M11.00,127.32 11.00,124.68 M11.00,123.17 11.00,120.53 M241.94,44.40 241.94,52.40 M242.32,44.40 242.32,52.40 M246.90,44.40 246.90,52.40 M247.28,44.40 247.28,52.40 M240.80,44.40 243.47,44.40 M245.75,44.40 248.42,44.40 M242.32,48.21 246.90,48.21 M240.80,52.40 243.47,52.40 M245.75,52.40 248.42,52.40 M255.28,45.54 255.66,44.40 255.66,46.69 255.28,45.54 254.52,44.78 253.37,44.40 252.23,44.40 251.09,44.78 250.33,45.54 250.33,46.30 250.71,47.07 251.09,47.45 251.85,47.83 254.14,48.59 254.90,48.97 255.66,49.73 M250.33,46.30 251.09,47.07 251.85,47.45 254.14,48.21 254.90,48.59 255.28,48.97 255.66,49.73 255.66,51.26 254.90,52.02 253.75,52.40 252.61,52.40 251.47,52.02 250.71,51.26 250.33,50.11 250.33,52.40 250.71,51.26 M260.61,44.40 260.61,50.88 260.23,52.02 259.47,52.40 258.71,52.40 257.94,52.02 257.56,51.26 257.56,50.49 257.94,50.11 258.33,50.49 257.94,50.88 M260.23,44.40 260.23,50.88 259.85,52.02 259.47,52.40 M259.09,44.40 261.75,44.40 M264.42,52.40 264.04,52.02 264.42,51.64 264.80,52.02 264.80,52.78 264.42,53.54 264.04,53.92 M274.33,44.40 274.33,52.40 M274.71,44.40 274.71,52.40 M273.19,44.40 275.85,44.40 M273.19,52.40 275.85,52.40 M282.71,45.54 283.09,44.40 283.09,46.69 282.71,45.54 281.95,44.78 280.80,44.40 279.66,44.40 278.52,44.78 277.76,45.54 277.76,46.30 278.14,47.07 278.52,47.45 279.28,47.83 281.57,48.59 282.33,48.97 283.09,49.73 M277.76,46.30 278.52,47.07 279.28,47.45 281.57,48.21 282.33,48.59 282.71,48.97 283.09,49.73 283.09,51.26 282.33,52.02 281.19,52.40 280.04,52.40 278.90,52.02 278.14,51.26 277.76,50.11 277.76,52.40 278.14,51.26 M286.14,44.40 286.14,52.40 M286.52,44.40 288.81,51.26 M286.14,44.40 288.81,52.40 M291.47,44.40 288.81,52.40 M291.47,44.40 291.47,52.40 M291.85,44.40 291.85,52.40 M285.00,44.40 286.52,44.40 M291.47,44.40 293.00,44.40 M285.00,52.40 287.28,52.40 M290.33,52.40 293.00,52.40 M241.94,60.10 241.94,68.10 M242.32,60.10 242.32,68.10 M246.90,60.10 246.90,68.10 M247.28,60.10 247.28,68.10 M240.80,60.10 243.47,60.10 M245.75,60.10 248.42,60.10 M242.32,63.91 246.90,63.91 M240.80,68.10 243.47,68.10 M245.75,68.10 248.42,68.10 M251.09,60.10 251.09,68.10 M251.47,60.10 251.47,68.10 M256.04,60.10 256.04,68.10 M256.42,60.10 256.42,68.10 M249.94,60.10 252.61,60.10 M254.90,60.10 257.56,60.10 M251.47,63.91 256.04,63.91 M249.94,68.10 252.61,68.10 M254.90,68.10 257.56,68.10 M262.14,60.10 262.14,66.58 261.75,67.72 260.99,68.10 260.23,68.10 259.47,67.72 259.09,66.96 259.09,66.19 259.47,65.81 259.85,66.19 259.47,66.58 M261.75,60.10 261.75,66.58 261.37,67.72 260.99,68.10 M260.61,60.10 263.28,60.10 M265.95,68.10 265.56,67.72 265.95,67.34 266.33,67.72 266.33,68.48 265.95,69.24 265.56,69.62 M275.85,60.10 275.85,68.10 M276.23,60.10 276.23,68.10 M274.71,60.10 277.38,60.10 M274.71,68.10 277.38,68.10 M284.23,61.24 284.61,60.10 284.61,62.38 284.23,61.24 283.47,60.48 282.33,60.10 281.19,60.10 280.04,60.48 279.28,61.24 279.28,62.00 279.66,62.77 280.04,63.15 280.80,63.53 283.09,64.29 283.85,64.67 284.61,65.43 M279.28,62.00 280.04,62.77 280.80,63.15 283.09,63.91 283.85,64.29 284.23,64.67 284.61,65.43 284.61,66.96 283.85,67.72 282.71,68.10 281.57,68.10 280.42,67.72 279.66,66.96 279.28,65.81 279.28,68.10 279.66,66.96 M287.66,60.10 287.66,68.10 M288.04,60.10 290.33,66.96 M287.66,60.10 290.33,68.10 M293.00,60.10 290.33,68.10 M293.00,60.10 293.00,68.10 M293.38,60.10 293.38,68.10 M286.52,60.10 288.04,60.10 M293.00,60.10 294.52,60.10 M286.52,68.10 288.81,68.10 M291.85,68.10 294.52,68.10 M241.94,75.30 241.94,83.30 M242.32,75.30 244.61,82.16 M241.94,75.30 244.61,83.30 M247.28,75.30 244.61,83.30 M247.28,75.30 247.28,83.30 M247.66,75.30 247.66,83.30 M240.80,75.30 242.32,75.30 M247.28,75.30 248.80,75.30 M240.80,83.30 243.09,83.30 M246.13,83.30 248.80,83.30 M255.66,76.44 256.04,75.30 256.04,77.58 255.66,76.44 254.90,75.68 253.75,75.30 252.61,75.30 251.47,75.68 250.71,76.44 250.71,77.20 251.09,77.97 251.47,78.35 252.23,78.73 254.52,79.49 255.28,79.87 256.04,80.63 M250.71,77.20 251.47,77.97 252.23,78.35 254.52,79.11 255.28,79.49 255.66,79.87 256.04,80.63 256.04,82.16 255.28,82.92 254.14,83.30 252.99,83.30 251.85,82.92 251.09,82.16 250.71,81.01 250.71,83.30 251.09,82.16 M260.99,75.30 260.99,81.78 260.61,82.92 259.85,83.30 259.09,83.30 258.33,82.92 257.94,82.16 257.94,81.39 258.33,81.01 258.71,81.39 258.33,81.78 M260.61,75.30 260.61,81.78 260.23,82.92 259.85,83.30 M259.47,75.30 262.14,75.30 M264.80,83.30 264.42,82.92 264.80,82.54 265.18,82.92 265.18,83.68 264.80,84.44 264.42,84.82 M274.71,75.30 274.71,83.30 M275.09,75.30 275.09,83.30 M273.57,75.30 276.23,75.30 M273.57,83.30 276.23,83.30 M283.09,76.44 283.47,75.30 283.47,77.58 283.09,76.44 282.33,75.68 281.19,75.30 280.04,75.30 278.90,75.68 278.14,76.44 278.14,77.20 278.52,77.97 278.90,78.35 279.66,78.73 281.95,79.49 282.71,79.87 283.47,80.63 M278.14,77.20 278.90,77.97 279.66,78.35 281.95,79.11 282.71,79.49 283.09,79.87 283.47,80.63 283.47,82.16 282.71,82.92 281.57,83.30 280.42,83.30 279.28,82.92 278.52,82.16 278.14,81.01 278.14,83.30 278.52,82.16 M286.52,75.30 286.52,83.30 M286.90,75.30 289.19,82.16 M286.52,75.30 289.19,83.30 M291.85,75.30 289.19,83.30 M291.85,75.30 291.85,83.30 M292.23,75.30 292.23,83.30 M285.38,75.30 286.90,75.30 M291.85,75.30 293.38,75.30 M285.38,83.30 287.66,83.30 M290.71,83.30 293.38,83.30 M241.94,91.00 241.94,99.00 M242.32,91.00 244.61,97.86 M241.94,91.00 244.61,99.00 M247.28,91.00 244.61,99.00 M247.28,91.00 247.28,99.00 M247.66,91.00 247.66,99.00 M240.80,91.00 242.32,91.00 M247.28,91.00 248.80,91.00 M240.80,99.00 243.09,99.00 M246.13,99.00 248.80,99.00 M251.47,91.00 251.47,99.00 M251.85,91.00 251.85,99.00 M256.42,91.00 256.42,99.00 M256.80,91.00 256.80,99.00 M250.33,91.00 252.99,91.00 M255.28,91.00 257.94,91.00 M251.85,94.81 256.42,94.81 M250.33,99.00 252.99,99.00 M255.28,99.00 257.94,99.00 M262.52,91.00 262.52,97.48 262.14,98.62 261.37,99.00 260.61,99.00 259.85,98.62 259.47,97.86 259.47,97.09 259.85,96.71 260.23,97.09 259.85,97.48 M262.14,91.00 262.14,97.48 261.75,98.62 261.37,99.00 M260.99,91.00 263.66,91.00 M266.33,99.00 265.95,98.62 266.33,98.24 266.71,98.62 266.71,99.38 266.33,100.14 265.95,100.52 M276.23,91.00 276.23,99.00 M276.61,91.00 276.61,99.00 M275.09,91.00 277.76,91.00 M275.09,99.00 277.76,99.00 M284.61,92.14 285.00,91.00 285.00,93.28 284.61,92.14 283.85,91.38 282.71,91.00 281.57,91.00 280.42,91.38 279.66,92.14 279.66,92.90 280.04,93.67 280.42,94.05 281.19,94.43 283.47,95.19 284.23,95.57 285.00,96.33 M279.66,92.90 280.42,93.67 281.19,94.05 283.47,94.81 284.23,95.19 284.61,95.57 285.00,96.33 285.00,97.86 284.23,98.62 283.09,99.00 281.95,99.00 280.80,98.62 280.04,97.86 279.66,96.71 279.66,99.00 280.04,97.86 M288.04,91.00 288.04,99.00 M288.42,91.00 290.71,97.86 M288.04,91.00 290.71,99.00 M293.38,91.00 290.71,99.00 M293.38,91.00 293.38,99.00 M293.76,91.00 293.76,99.00 M286.90,91.00 288.42,91.00 M293.38,91.00 294.90,91.00 M286.90,99.00 289.19,99.00 M292.23,99.00 294.90,99.00 M241.94,106.50 241.94,114.50 M242.32,106.50 244.61,113.36 M241.94,106.50 244.61,114.50 M247.28,106.50 244.61,114.50 M247.28,106.50 247.28,114.50 M247.66,106.50 247.66,114.50 M240.80,106.50 242.32,106.50 M247.28,106.50 248.80,106.50 M240.80,114.50 243.09,114.50 M246.13,114.50 248.80,114.50 M251.47,106.50 251.47,114.50 M251.85,106.50 251.85,114.50 M256.42,106.50 256.42,114.50 M256.80,106.50 256.80,114.50 M250.33,106.50 252.99,106.50 M255.28,106.50 257.94,106.50 M251.85,110.31 256.42,110.31 M250.33,114.50 252.99,114.50 M255.28,114.50 257.94,114.50 M262.52,106.50 262.52,112.98 262.14,114.12 261.37,114.50 260.61,114.50 259.85,114.12 259.47,113.36 259.47,112.59 259.85,112.21 260.23,112.59 259.85,112.98 M262.14,106.50 262.14,112.98 261.75,114.12 261.37,114.50 M260.99,106.50 263.66,106.50 M266.33,114.50 265.95,114.12 266.33,113.74 266.71,114.12 266.71,114.88 266.33,115.64 265.95,116.02 M275.85,106.50 277.38,114.50 M276.23,106.50 277.38,112.59 M278.90,106.50 277.38,114.50 M278.90,106.50 280.42,114.50 M279.28,106.50 280.42,112.59 M281.95,106.50 280.42,114.50 M274.71,106.50 277.38,106.50 M280.80,106.50 283.09,106.50 M285.38,106.50 285.00,106.88 285.38,107.26 285.76,106.88 285.38,106.50 M285.38,109.17 285.38,114.50 M285.76,109.17 285.76,114.50 M284.23,109.17 285.76,109.17 M284.23,114.50 286.90,114.50 M289.57,109.17 289.57,114.50 M289.95,109.17 289.95,114.50 M289.95,110.31 290.71,109.55 291.85,109.17 292.62,109.17 293.76,109.55 294.14,110.31 294.14,114.50 M292.62,109.17 293.38,109.55 293.76,110.31 293.76,114.50 M288.42,109.17 289.95,109.17 M288.42,114.50 291.09,114.50 M292.62,114.50 295.28,114.50 M301.76,106.50 301.76,114.50 M302.14,106.50 302.14,114.50 M301.76,110.31 301.00,109.55 300.24,109.17 299.47,109.17 298.33,109.55 297.57,110.31 297.19,111.45 297.19,112.21 297.57,113.36 298.33,114.12 299.47,114.50 300.24,114.50 301.00,114.12 301.76,113.36 M299.47,109.17 298.71,109.55 297.95,110.31 297.57,111.45 297.57,112.21 297.95,113.36 298.71,114.12 299.47,114.50 M300.62,106.50 302.14,106.50 M301.76,114.50 303.28,114.50" fill="none" stroke="#000" stroke-width="1.02" stroke-linecap="round" stroke-linejoin="round"/>
<g fill="none">
<path d="M206.0,49.9 H236.2" stroke="#ff0000" stroke-width="2.15"/>
<path d="M206.0,65.3 H236.2" stroke="#3838ff" stroke-width="1.0" stroke-dasharray="4.8 4"/>
<path d="M206.0,80.5 H236.2" stroke="#2cf82c" stroke-width="1.0" stroke-dasharray="4.8 1.9 1.4 1.7"/>
<path d="M206.0,96.2 H236.2" stroke="#e61ae6" stroke-width="1.95" stroke-dasharray="7.3 1.8 1.6 1.7 1.6 1.7 1.6 1.5"/>
<path d="M206.0,111.8 H236.2" stroke="#ff6000" stroke-width="1.9" stroke-dasharray="9.6 3.7"/>
</g>
</svg>
</body></html>
